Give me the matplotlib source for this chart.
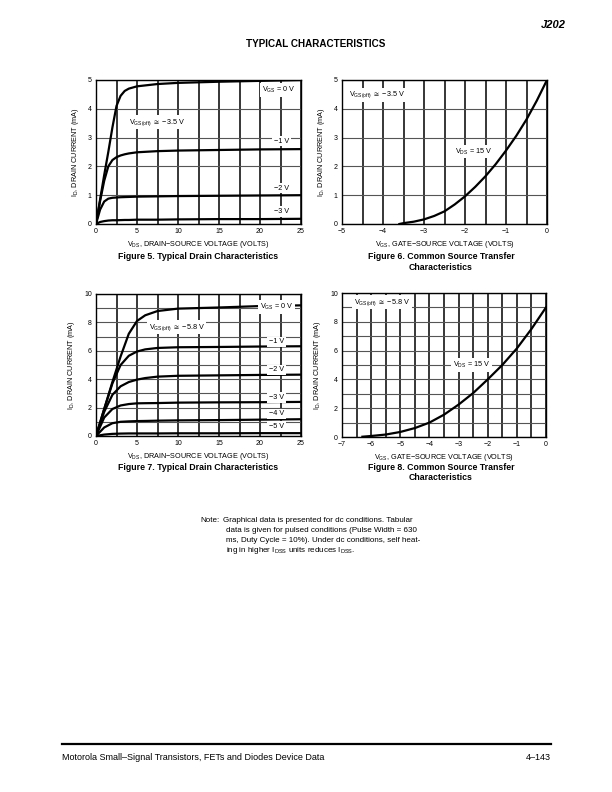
"""
J202 typical characteristics page: drain and transfer curves.
"""

import matplotlib
matplotlib.use("Agg")
import matplotlib.pyplot as plt

plt.rcParams["font.family"] = ["Liberation Sans", "DejaVu Sans"]
plt.rcParams["mathtext.fontset"] = "custom"
plt.rcParams["mathtext.rm"] = "Liberation Sans"
plt.rcParams["mathtext.it"] = "Liberation Sans"

# Figure 5: drain characteristics, VGS(off) ~ -3.5 V
vds5 = [0, 0.5, 1, 1.5, 2, 2.5, 3, 3.5, 4, 5, 7.5, 10, 15, 20, 25]
id5_0v = [0, 0.85, 1.7, 2.5, 3.35, 4.1, 4.45, 4.62, 4.7, 4.78, 4.86, 4.9, 4.94, 4.97, 5.0]
id5_1v = [0, 0.8, 1.5, 2.0, 2.22, 2.32, 2.38, 2.42, 2.45, 2.49, 2.53, 2.55, 2.57, 2.59, 2.6]
id5_2v = [0, 0.5, 0.78, 0.88, 0.91, 0.92, 0.93, 0.935, 0.94, 0.95, 0.96, 0.97, 0.98, 0.99, 1.0]
id5_3v = [0, 0.07, 0.1, 0.12, 0.13, 0.13, 0.135, 0.14, 0.14, 0.15, 0.15, 0.16, 0.17, 0.17, 0.18]

# Figure 6: transfer curve, VDS = 15 V
vgs6 = [-3.6, -3.5, -3.25, -3.0, -2.75, -2.5, -2.25, -2.0, -1.75, -1.5, -1.25, -1.0, -0.75, -0.5, -0.25, 0]
id6 = [0.0, 0.03, 0.08, 0.16, 0.28, 0.44, 0.68, 0.96, 1.29, 1.66, 2.08, 2.55, 3.06, 3.63, 4.28, 5.0]

# Figure 7: drain characteristics, VGS(off) ~ -5.8 V
vds7 = [0, 1, 2, 3, 4, 5, 6, 7.5, 10, 15, 20, 25]
id7_0v = [0, 1.9, 3.8, 5.6, 7.2, 8.1, 8.5, 8.8, 8.97, 9.05, 9.15, 9.2]
id7_1v = [0, 1.9, 3.7, 5.0, 5.65, 5.95, 6.1, 6.2, 6.25, 6.27, 6.3, 6.32]
id7_2v = [0, 1.7, 2.9, 3.5, 3.8, 3.97, 4.08, 4.18, 4.24, 4.27, 4.3, 4.32]
id7_3v = [0, 1.3, 1.9, 2.15, 2.25, 2.3, 2.31, 2.32, 2.35, 2.37, 2.38, 2.4]
id7_4v = [0, 0.6, 0.9, 1.0, 1.03, 1.05, 1.06, 1.08, 1.1, 1.12, 1.15, 1.18]
id7_5v = [0, 0.1, 0.15, 0.17, 0.18, 0.18, 0.18, 0.18, 0.19, 0.19, 0.2, 0.2]

# Figure 8: transfer curve, VDS = 15 V
vgs8 = [-6.3, -6.0, -5.5, -5.0, -4.5, -4.0, -3.5, -3.0, -2.5, -2.0, -1.5, -1.0, -0.5, 0]
id8 = [0.02, 0.07, 0.17, 0.35, 0.62, 1.0, 1.55, 2.25, 3.05, 4.0, 5.0, 6.15, 7.5, 9.0]

BOX = dict(facecolor="white", edgecolor="none", pad=1.2)
TICK_FS = 5
LAB_FS = 5.2


def setup(ax, xlim, ylim, xmajor, xgrid, ymajor, ygrid, xlabel):
    ax.set_xlim(*xlim)
    ax.set_ylim(*ylim)
    ax.set_xticks(xmajor)
    ax.set_xticks(xgrid, minor=True)
    ax.set_yticks(ymajor)
    ax.set_yticks(ygrid, minor=True)
    ax.tick_params(which="both", length=0, labelsize=TICK_FS, pad=3)
    ax.grid(axis="x", which="both", color="black", lw=1.1)
    ax.grid(axis="y", which="both", color="#555555", lw=0.8)
    ax.set_axisbelow(True)
    for s in ax.spines.values():
        s.set_linewidth(1.0)
    ax.set_xlabel(xlabel, fontsize=LAB_FS, labelpad=3)
    ax.set_ylabel(r"I$_{\rm D}$, DRAIN CURRENT (mA)", fontsize=LAB_FS, labelpad=5)


def lab(ax, x, y, s):
    ax.text(x, y, s, fontsize=LAB_FS, ha="center", va="center", bbox=BOX, zorder=5)


def main():
    fig = plt.figure(figsize=(6.12, 7.92), dpi=100)
    W, H = 612.0, 792.0

    def box(l, t, r, b):
        return [l / W, 1 - b / H, (r - l) / W, (b - t) / H]

    vds_label = r"V$_{\rm DS}$, DRAIN$-$SOURCE VOLTAGE (VOLTS)"
    vgs_label = r"V$_{\rm GS}$, GATE$-$SOURCE VOLTAGE (VOLTS)"

    # Figure 5
    ax5 = fig.add_axes(box(96, 80, 301, 224))
    setup(ax5, (0, 25), (0, 5), range(0, 26, 5), [2.5 * i for i in range(11)],
          range(0, 6), [], vds_label)
    for ys in (id5_0v, id5_1v, id5_2v, id5_3v):
        ax5.plot(vds5, ys, color="black", lw=1.6, zorder=3)
    lab(ax5, 22.3, 4.65, r"V$_{\rm GS}$ = 0 V")
    lab(ax5, 7.4, 3.53, r"V$_{\rm GS(off)}$ $\cong$ −3.5 V")
    lab(ax5, 22.6, 2.88, "−1 V")
    lab(ax5, 22.6, 1.24, "−2 V")
    lab(ax5, 22.6, 0.43, "−3 V")

    # Figure 6
    ax6 = fig.add_axes(box(342, 80, 547, 224))
    setup(ax6, (-5, 0), (0, 5), range(-5, 1), [-5 + 0.5 * i for i in range(11)],
          range(0, 6), [], vgs_label)
    ax6.plot(vgs6, id6, color="black", lw=1.6, zorder=3)
    lab(ax6, -4.15, 4.48, r"V$_{\rm GS(off)}$ $\cong$ −3.5 V")
    lab(ax6, -1.8, 2.51, r"V$_{\rm DS}$ = 15 V")

    # Figure 7
    ax7 = fig.add_axes(box(96, 294, 301, 436))
    setup(ax7, (0, 25), (0, 10), range(0, 26, 5), [2.5 * i for i in range(11)],
          range(0, 11, 2), range(0, 11), vds_label)
    for ys in (id7_0v, id7_1v, id7_2v, id7_3v, id7_4v, id7_5v):
        ax7.plot(vds7, ys, color="black", lw=1.6, zorder=3)
    lab(ax7, 22.0, 9.1, r"V$_{\rm GS}$ = 0 V")
    lab(ax7, 9.85, 7.65, r"V$_{\rm GS(off)}$ $\cong$ −5.8 V")
    lab(ax7, 22.0, 6.64, "−1 V")
    lab(ax7, 22.0, 4.65, "−2 V")
    lab(ax7, 22.0, 2.72, "−3 V")
    lab(ax7, 22.0, 1.55, "−4 V")
    lab(ax7, 22.0, 0.66, "−5 V")

    # Figure 8
    ax8 = fig.add_axes(box(342, 293, 546, 437))
    setup(ax8, (-7, 0), (0, 10), range(-7, 1), [-7 + 0.5 * i for i in range(15)],
          range(0, 11, 2), range(0, 11), vgs_label)
    ax8.plot(vgs8, id8, color="black", lw=1.6, zorder=3)
    lab(ax8, -5.63, 9.35, r"V$_{\rm GS(off)}$ $\cong$ −5.8 V")
    lab(ax8, -2.55, 5.01, r"V$_{\rm DS}$ = 15 V")

    # captions
    cap = dict(fontsize=6.3, fontweight="bold", ha="center", va="center")
    fig.text(198 / W, 1 - 256 / H, "Figure 5. Typical Drain Characteristics", **cap)
    fig.text(441 / W, 1 - 256 / H, "Figure 6. Common Source Transfer", **cap)
    fig.text(441 / W, 1 - 267 / H, "Characteristics", **cap)
    fig.text(198 / W, 1 - 467 / H, "Figure 7. Typical Drain Characteristics", **cap)
    fig.text(441 / W, 1 - 467 / H, "Figure 8. Common Source Transfer", **cap)
    fig.text(441 / W, 1 - 478 / H, "Characteristics", **cap)

    # header
    fig.text(566 / W, 1 - 25 / H, "J202", fontsize=8, fontweight="bold",
             style="italic", ha="right", va="center")
    fig.text(316 / W, 1 - 44 / H, "TYPICAL CHARACTERISTICS", fontsize=7.1,
             fontweight="bold", ha="center", va="center")

    # note
    nfs = 5.8
    fig.text(200 / W, 1 - 520 / H, "Note:", fontsize=nfs, va="center")
    note_lines = [
        "Graphical data is presented for dc conditions. Tabular",
        "data is given for pulsed conditions (Pulse Width = 630",
        "ms, Duty Cycle = 10%). Under dc conditions, self heat-",
        r"ing in higher I$_{\rm DSS}$ units reduces I$_{\rm DSS}$.",
    ]
    for i, line in enumerate(note_lines):
        x0 = 223 if i == 0 else 226
        fig.text(x0 / W, 1 - (520 + 10.3 * i) / H, line, fontsize=nfs, va="center")

    # footer
    fig.add_artist(plt.Line2D([62 / W, 551 / W], [1 - 744 / H, 1 - 744 / H],
                              color="black", lw=1.6))
    fig.text(62 / W, 1 - 758 / H, "Motorola Small–Signal Transistors, FETs and Diodes Device Data",
             fontsize=6.5, va="center")
    fig.text(551 / W, 1 - 758 / H, "4–143", fontsize=6.5, va="center", ha="right")

    fig.savefig("out.png", dpi=100)


if __name__ == "__main__":
    main()
